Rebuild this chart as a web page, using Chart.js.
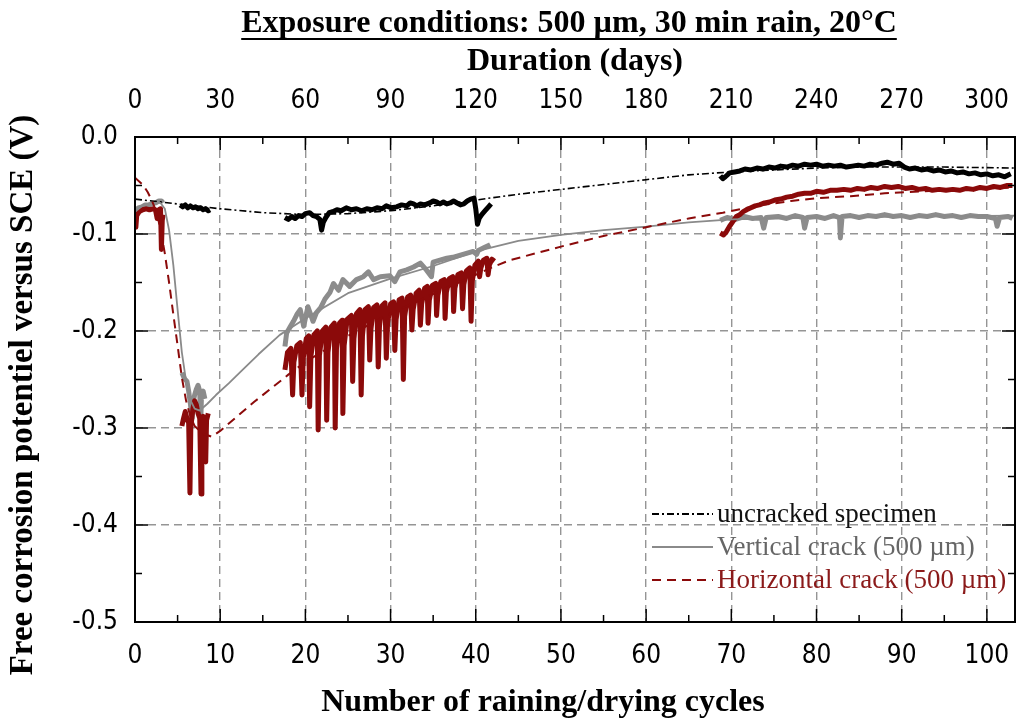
<!DOCTYPE html>
<html lang="en">
<head>
<meta charset="UTF-8">
<title>Free corrosion potential - 500 µm cracks</title>
<script src="https://cdn.jsdelivr.net/npm/chart.js@4"></script>
<style>
  html, body { margin: 0; padding: 0; background: #fff; }
  #wrap { width: 1019px; height: 720px; }
</style>
</head>
<body>
<div id="wrap"><canvas id="chart" width="1019" height="720"></canvas></div>
<script>
// x = raining/drying cycle, y = potential (V vs SCE)
const mainTitle = 'Exposure conditions: 500 µm, 30 min rain, 20°C';
const topAxisTitle = 'Duration (days)';
const bottomAxisTitle = 'Number of raining/drying cycles';
const leftAxisTitle = 'Free corrosion potentiel versus SCE (V)';
const seriesNames = ['uncracked specimen', 'Vertical crack (500 µm)', 'Horizontal crack (500 µm)'];
const cycleTicks = [0, 10, 20, 30, 40, 50, 60, 70, 80, 90, 100];
const dayTicks = [0, 30, 60, 90, 120, 150, 180, 210, 240, 270, 300];
const potentialTicks = [0, -0.1, -0.2, -0.3, -0.4, -0.5];

// fitted curves
const blackFit = [[0,-0.064],[5,-0.069],[10,-0.074],[15,-0.078],[20,-0.080],[25,-0.079],[30,-0.076],[35,-0.071],[40,-0.065],[45,-0.059],[50,-0.054],[55,-0.049],[60,-0.044],[65,-0.039],[70,-0.036],[75,-0.034],[80,-0.032],[85,-0.031],[90,-0.031],[95,-0.031],[103.3,-0.032]];
const grayFit = [[0,-0.077],[1,-0.070],[2,-0.068],[3,-0.068],[3.5,-0.074],[4,-0.096],[4.5,-0.132],[5,-0.178],[5.5,-0.222],[6,-0.252],[6.5,-0.271],[7,-0.280],[7.6,-0.282],[8.5,-0.275],[9.5,-0.266],[11,-0.254],[12.5,-0.241],[14.5,-0.224],[17,-0.204],[20,-0.187],[25,-0.161],[30,-0.146],[35,-0.133],[40,-0.118],[45,-0.107],[50,-0.101],[55,-0.096],[60,-0.0925],[65,-0.088],[70,-0.085],[80,-0.083],[90,-0.082],[103.3,-0.081]];
const redFit = [[0,-0.042],[1,-0.050],[1.5,-0.057],[2,-0.066],[2.5,-0.077],[3,-0.095],[3.5,-0.120],[4,-0.150],[4.5,-0.183],[5,-0.215],[5.5,-0.248],[6,-0.272],[6.5,-0.288],[7,-0.298],[8,-0.306],[9,-0.309],[10,-0.303],[12,-0.288],[14,-0.273],[16,-0.259],[18,-0.245],[20,-0.232],[25,-0.205],[30,-0.182],[35,-0.162],[40,-0.142],[42,-0.134],[44,-0.127],[50,-0.113],[55,-0.102],[60,-0.093],[65,-0.084],[69,-0.078],[73,-0.071],[77,-0.066],[80,-0.063],[84,-0.061],[88,-0.058],[95,-0.055],[103.3,-0.052]];

// measured segments
const blackRaw1 = [[5.3,-0.070],[5.6,-0.072],[5.9,-0.070],[6.2,-0.073],[6.5,-0.071],[6.8,-0.073],[7.1,-0.072],[7.4,-0.074],[7.7,-0.073],[8.0,-0.075],[8.3,-0.074],[8.6,-0.076],[8.8,-0.075]];
const blackRaw2 = [[17.6,-0.083],[18.0,-0.085],[18.4,-0.082],[18.8,-0.084],[19.2,-0.081],[19.6,-0.082],[20.0,-0.079],[20.5,-0.078],[20.9,-0.081],[21.3,-0.082],[21.7,-0.085],[21.9,-0.096],[22.1,-0.088],[22.4,-0.083],[22.8,-0.078],[23.2,-0.077],[23.7,-0.075],[24.2,-0.076],[24.8,-0.073],[25.4,-0.075],[26.0,-0.074],[26.6,-0.076],[27.2,-0.074],[27.8,-0.075],[28.4,-0.073],[29.0,-0.074],[29.5,-0.071],[30.1,-0.073],[30.7,-0.072],[31.3,-0.070],[31.9,-0.071],[32.3,-0.068],[32.7,-0.069],[33.1,-0.071],[33.5,-0.069],[34.0,-0.070],[34.6,-0.068],[35.0,-0.066],[35.4,-0.067],[35.8,-0.069],[36.2,-0.067],[36.6,-0.069],[37.0,-0.068],[37.4,-0.066],[37.8,-0.068],[38.2,-0.070],[38.6,-0.069],[39.0,-0.066],[39.4,-0.064],[39.8,-0.063],[40.0,-0.074],[40.2,-0.090],[40.4,-0.084],[40.7,-0.080],[41.1,-0.076],[41.5,-0.072],[41.8,-0.069]];
const blackRaw3 = [[68.7,-0.040],[69.0,-0.043],[69.3,-0.041],[69.8,-0.037],[70.4,-0.036],[71.0,-0.035],[71.6,-0.033],[72.3,-0.034],[73.0,-0.032],[73.7,-0.033],[74.4,-0.031],[75.1,-0.032],[75.8,-0.030],[76.5,-0.031],[77.2,-0.029],[77.9,-0.030],[78.6,-0.028],[79.3,-0.029],[80.0,-0.028],[80.7,-0.030],[81.4,-0.029],[82.1,-0.030],[82.8,-0.029],[83.5,-0.031],[84.2,-0.030],[84.9,-0.029],[85.6,-0.030],[86.3,-0.028],[87.0,-0.029],[87.7,-0.027],[88.3,-0.026],[89.0,-0.028],[89.7,-0.027],[90.3,-0.031],[90.9,-0.033],[91.6,-0.032],[92.3,-0.034],[93.0,-0.033],[93.7,-0.035],[94.4,-0.034],[95.1,-0.036],[95.8,-0.035],[96.5,-0.037],[97.2,-0.036],[97.9,-0.038],[98.6,-0.037],[99.3,-0.039],[100.0,-0.038],[100.7,-0.040],[101.4,-0.039],[102.1,-0.041],[102.8,-0.038]];

const grayRaw1 = [[0,-0.076],[0.4,-0.073],[0.8,-0.072],[1.2,-0.070],[1.6,-0.070],[2.0,-0.069],[2.4,-0.068],[2.8,-0.066],[3.1,-0.066],[3.3,-0.068]];
const grayRaw2 = [[5.5,-0.243],[5.8,-0.249],[6.1,-0.252],[6.3,-0.262],[6.5,-0.275],[6.7,-0.290],[6.85,-0.272],[7.0,-0.266],[7.2,-0.260],[7.4,-0.256],[7.6,-0.262],[7.7,-0.300],[7.8,-0.268],[8.0,-0.262],[8.2,-0.270]];
const grayRaw3 = [[17.6,-0.216],[17.8,-0.202],[18.2,-0.196],[18.6,-0.190],[19.0,-0.183],[19.4,-0.178],[19.8,-0.195],[20.3,-0.175],[20.9,-0.190],[21.3,-0.181],[21.8,-0.176],[22.3,-0.167],[22.9,-0.160],[23.3,-0.151],[23.9,-0.158],[24.4,-0.147],[25.2,-0.154],[26.0,-0.147],[26.8,-0.144],[27.4,-0.139],[28.0,-0.147],[28.8,-0.144],[29.9,-0.143],[30.5,-0.149],[31.1,-0.139],[31.9,-0.137],[32.7,-0.134],[33.5,-0.130],[34.2,-0.137],[34.8,-0.144],[35.0,-0.129],[35.8,-0.127],[36.6,-0.125],[37.3,-0.124],[38.1,-0.122],[38.9,-0.120],[39.7,-0.118],[40.1,-0.121],[40.3,-0.117],[41.0,-0.114],[41.7,-0.111]];
const grayRaw4 = [[68.7,-0.086],[69.5,-0.083],[70.5,-0.085],[71.5,-0.082],[72.5,-0.084],[73.5,-0.083],[73.8,-0.094],[74.1,-0.083],[75.5,-0.082],[76.5,-0.084],[77.5,-0.081],[78.4,-0.083],[78.6,-0.094],[78.9,-0.083],[80,-0.082],[81,-0.084],[82,-0.081],[82.7,-0.083],[82.8,-0.104],[83,-0.082],[84,-0.081],[85,-0.083],[86,-0.081],[87,-0.082],[88,-0.080],[89,-0.082],[90,-0.081],[91,-0.083],[92,-0.081],[93,-0.082],[94,-0.080],[95,-0.082],[96,-0.081],[97,-0.083],[98,-0.081],[99,-0.082],[100,-0.082],[101,-0.084],[101.2,-0.092],[101.5,-0.083],[102.5,-0.082],[103,-0.084]];

const redRaw1 = [[0,-0.082],[0.1,-0.093],[0.2,-0.081],[0.5,-0.077],[0.9,-0.075],[1.3,-0.074],[1.7,-0.075],[2.1,-0.074],[2.4,-0.075],[2.6,-0.084],[2.8,-0.075],[3.0,-0.074],[3.1,-0.116],[3.2,-0.086],[3.3,-0.080]];
const redRaw2 = [[5.5,-0.298],[5.7,-0.290],[5.9,-0.283],[6.1,-0.290],[6.3,-0.295],[6.45,-0.367],[6.55,-0.300],[6.8,-0.280],[7.0,-0.272],[7.2,-0.276],[7.4,-0.285],[7.6,-0.290],[7.75,-0.368],[7.85,-0.295],[8.0,-0.288],[8.2,-0.290],[8.3,-0.335],[8.4,-0.292],[8.6,-0.285]];
const redRaw3 = [[17.6,-0.240],[17.9,-0.222],[18.3,-0.218],[18.5,-0.266],[18.65,-0.232],[19.0,-0.215],[19.4,-0.212],[19.6,-0.266],[19.75,-0.228],[20.1,-0.208],[20.4,-0.205],[20.5,-0.278],[20.65,-0.226],[21.0,-0.204],[21.4,-0.200],[21.5,-0.302],[21.65,-0.225],[22.0,-0.200],[22.4,-0.196],[22.5,-0.292],[22.65,-0.222],[23.0,-0.196],[23.4,-0.192],[23.5,-0.300],[23.65,-0.218],[24.0,-0.192],[24.3,-0.189],[24.4,-0.285],[24.55,-0.215],[24.9,-0.188],[25.4,-0.184],[25.55,-0.252],[25.7,-0.208],[26.0,-0.182],[26.4,-0.178],[26.55,-0.266],[26.7,-0.205],[27.0,-0.178],[27.4,-0.175],[27.55,-0.230],[27.7,-0.198],[28.0,-0.176],[28.4,-0.173],[28.55,-0.237],[28.7,-0.195],[29.0,-0.174],[29.35,-0.171],[29.5,-0.228],[29.65,-0.192],[30.0,-0.172],[30.35,-0.170],[30.5,-0.220],[30.65,-0.188],[31.0,-0.168],[31.35,-0.166],[31.5,-0.250],[31.65,-0.185],[32.0,-0.165],[32.35,-0.163],[32.5,-0.199],[32.65,-0.178],[33.0,-0.161],[33.35,-0.158],[33.5,-0.194],[33.65,-0.172],[34.0,-0.156],[34.3,-0.154],[34.4,-0.192],[34.55,-0.168],[34.9,-0.153],[35.3,-0.151],[35.4,-0.184],[35.55,-0.163],[35.9,-0.149],[36.3,-0.147],[36.4,-0.187],[36.55,-0.160],[36.9,-0.146],[37.3,-0.144],[37.4,-0.180],[37.55,-0.156],[37.9,-0.142],[38.3,-0.140],[38.45,-0.177],[38.6,-0.152],[38.9,-0.138],[39.3,-0.135],[39.45,-0.190],[39.6,-0.148],[39.9,-0.132],[40.3,-0.128],[40.45,-0.144],[40.6,-0.135],[40.9,-0.127],[41.3,-0.125],[41.45,-0.142],[41.6,-0.132],[41.9,-0.126],[42.2,-0.128]];
const redRaw4 = [[68.7,-0.099],[69.1,-0.101],[69.4,-0.098],[69.8,-0.092],[70.2,-0.087],[70.6,-0.082],[71.0,-0.080],[71.4,-0.077],[71.8,-0.075],[72.3,-0.073],[72.8,-0.071],[73.3,-0.070],[73.9,-0.068],[74.5,-0.067],[75.1,-0.065],[75.8,-0.064],[76.5,-0.062],[77.2,-0.061],[77.9,-0.059],[78.6,-0.058],[79.3,-0.058],[80.0,-0.056],[80.8,-0.057],[81.6,-0.055],[82.4,-0.055],[83.2,-0.054],[84.0,-0.055],[84.8,-0.053],[85.6,-0.054],[86.4,-0.052],[87.2,-0.053],[88.0,-0.051],[88.8,-0.052],[89.6,-0.051],[90.4,-0.053],[91.2,-0.052],[92.0,-0.054],[92.8,-0.053],[93.6,-0.055],[94.4,-0.054],[95.2,-0.055],[96.0,-0.054],[96.8,-0.055],[97.6,-0.053],[98.4,-0.054],[99.2,-0.052],[100.0,-0.053],[100.8,-0.051],[101.6,-0.052],[102.4,-0.050],[103.0,-0.050]];

const BLACK = '#000000', GRAY = '#8c8c8c', RED = '#8b0a0a';
const serif = "'Liberation Serif', 'DejaVu Serif', serif";
const narrow = "'Liberation Sans Narrow', 'DejaVu Sans Condensed', sans-serif";

const pts = seg => seg.map(([x, y]) => ({x, y}));
const joinSegs = (...segs) => segs.flatMap((s, i) => i ? [{x: s[0][0] - 0.01, y: null}, ...pts(s)] : pts(s));

const legendItems = [
  { text: seriesNames[0], color: BLACK, textColor: '#111', dash: [7, 3, 2, 3], width: 2 },
  { text: seriesNames[1], color: '#8a8a8a', textColor: '#666', dash: [], width: 2 },
  { text: seriesNames[2], color: RED, textColor: '#8b1a1a', dash: [9, 6], width: 2.2 }
];

const frameAndTicks = {
  id: 'frameAndTicks',
  afterDatasetsDraw(chart) {
    const {ctx, chartArea: a, scales: {x, y}} = chart;
    ctx.save();
    ctx.strokeStyle = '#000';
    ctx.lineWidth = 1.5;
    ctx.setLineDash([]);
    const seg = (x1, y1, x2, y2) => { ctx.beginPath(); ctx.moveTo(x1, y1); ctx.lineTo(x2, y2); ctx.stroke(); };
    for (let c = 0; c <= 100; c += 5) {
      const px = x.getPixelForValue(c);
      const len = c % 10 ? 7 : 13;
      seg(px, a.bottom, px, a.bottom - len);
      seg(px, a.top, px, a.top + len);
    }
    for (let i = 0; i <= 10; i++) {
      const py = y.getPixelForValue(-i * 0.05);
      const len = i % 2 ? 7 : 13;
      seg(a.left, py, a.left + len, py);
      seg(a.right, py, a.right - len, py);
    }
    ctx.lineWidth = 2;
    ctx.strokeRect(a.left, a.top, a.right - a.left, a.bottom - a.top);
    ctx.restore();
  }
};

const titlesAndLegend = {
  id: 'titlesAndLegend',
  afterDraw(chart) {
    const {ctx} = chart;
    ctx.save();
    ctx.fillStyle = '#000';
    ctx.strokeStyle = '#000';
    ctx.textAlign = 'center';
    ctx.textBaseline = 'middle';
    // underlined main title
    ctx.font = "bold 32px " + serif;
    ctx.fillText(mainTitle, 569, 24);
    const w = ctx.measureText(mainTitle).width;
    ctx.lineWidth = 2;
    ctx.beginPath(); ctx.moveTo(569 - w / 2, 39); ctx.lineTo(569 + w / 2, 39); ctx.stroke();
    // axis titles
    ctx.fillText(topAxisTitle, 575, 62);
    ctx.fillText(bottomAxisTitle, 543, 703);
    ctx.save();
    ctx.translate(23, 395);
    ctx.rotate(-Math.PI / 2);
    ctx.font = "bold 33px " + serif;
    ctx.fillText(leftAxisTitle, 0, 0);
    ctx.restore();
    // legend
    ctx.font = "27px " + serif;
    ctx.textAlign = 'left';
    legendItems.forEach((it, i) => {
      const ly = 514 + i * 33;
      ctx.strokeStyle = it.color;
      ctx.lineWidth = it.width;
      ctx.setLineDash(it.dash);
      ctx.beginPath(); ctx.moveTo(652, ly); ctx.lineTo(713, ly); ctx.stroke();
      ctx.setLineDash([]);
      ctx.fillStyle = it.textColor;
      ctx.fillText(it.text, 717, ly + 1);
    });
    ctx.restore();
  }
};

const gridColor = ok => ctx => ok(ctx.tick.value) ? '#959595' : 'rgba(0,0,0,0)';
const tickFont = { family: narrow, size: 26 };
const noSidePadding = s => { s.paddingLeft = 0; s.paddingRight = 0; };

new Chart(document.getElementById('chart'), {
  type: 'line',
  data: {
    datasets: [
      { label: seriesNames[2] + ' fit', data: pts(redFit), borderColor: RED, borderWidth: 2, borderDash: [9, 6] },
      { label: seriesNames[1] + ' fit', data: pts(grayFit), borderColor: '#8a8a8a', borderWidth: 1.8 },
      { label: seriesNames[0] + ' fit', data: pts(blackFit), borderColor: BLACK, borderWidth: 1.6, borderDash: [7, 3, 2, 3] },
      { label: seriesNames[2], data: joinSegs(redRaw1, redRaw2, redRaw3, redRaw4), borderColor: RED, borderWidth: 5 },
      { label: seriesNames[1], data: joinSegs(grayRaw1, grayRaw2, grayRaw3, grayRaw4), borderColor: GRAY, borderWidth: 5 },
      { label: seriesNames[0], data: joinSegs(blackRaw1, blackRaw2, blackRaw3), borderColor: BLACK, borderWidth: 5 }
    ]
  },
  options: {
    responsive: false,
    animation: false,
    layout: { padding: { top: 42, right: 4, left: 0, bottom: 0 } },
    elements: { point: { radius: 0 }, line: { tension: 0, borderJoinStyle: 'round', borderCapStyle: 'butt' } },
    plugins: { legend: { display: false }, tooltip: { enabled: false } },
    scales: {
      x: {
        type: 'linear', position: 'bottom', min: 0, max: 103.3,
        afterBuildTicks: s => { s.ticks = cycleTicks.map(v => ({value: v})); },
        afterFit: s => { s.height = 98; noSidePadding(s); },
        ticks: { autoSkip: false, maxRotation: 0, padding: 19, color: '#000', font: tickFont },
        grid: { drawTicks: false, lineWidth: 1.4, color: gridColor(v => v > 0 && v < 103) },
        border: { display: false, dash: [8, 5] }
      },
      x2: {
        type: 'linear', position: 'top', min: 0, max: 310,
        afterBuildTicks: s => { s.ticks = dayTicks.map(v => ({value: v})); },
        afterFit: s => { s.height = 95; noSidePadding(s); },
        ticks: { autoSkip: false, maxRotation: 0, padding: 20, color: '#000', font: tickFont },
        grid: { display: false, drawTicks: false },
        border: { display: false }
      },
      y: {
        type: 'linear', min: -0.5, max: 0,
        afterBuildTicks: s => { s.ticks = potentialTicks.map(v => ({value: v})); },
        afterFit: s => { s.width = 135; s.paddingTop = 0; s.paddingBottom = 0; },
        ticks: { padding: 17, color: '#000', font: tickFont, callback: v => v.toFixed(1) },
        grid: { drawTicks: false, lineWidth: 1.4, color: gridColor(v => v < -0.01 && v > -0.49) },
        border: { display: false, dash: [8, 5] }
      }
    }
  },
  plugins: [frameAndTicks, titlesAndLegend]
});
</script>
</body>
</html>
